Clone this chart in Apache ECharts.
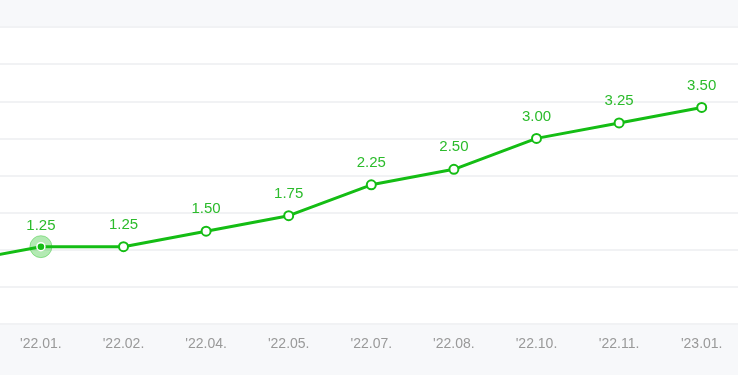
<!DOCTYPE html>
<html>
<head>
<meta charset="utf-8">
<script src="https://cdn.jsdelivr.net/npm/echarts@6/dist/echarts.min.js"></script>
<style>
html,body{margin:0;padding:0;background:#f7f8fa;width:738px;height:375px;overflow:hidden;}
#c{width:826px;height:375px;margin-left:-82.6px;}
</style>
</head>
<body>
<div id="c"></div>
<script>
var categories = ["'21.11.", "'22.01.", "'22.02.", "'22.04.", "'22.05.", "'22.07.", "'22.08.", "'22.10.", "'22.11.", "'23.01."];
var rates = [1.00, 1.25, 1.25, 1.50, 1.75, 2.25, 2.50, 3.00, 3.25, 3.50];
var highlightIndex = 1;

var green = '#14bd14';
var chart = echarts.init(document.getElementById('c'), null, {renderer: 'canvas'});
var lineData = rates.map(function (v, i) {
  if (i === highlightIndex) {
    return {value: v, symbolSize: 8, itemStyle: {color: green, borderColor: '#fff', borderWidth: 1.5}};
  }
  return v;
});
var haloData = rates.map(function (v, i) { return i === highlightIndex ? v : null; });
chart.setOption({
  backgroundColor: '#f7f8fa',
  animation: false,
  grid: {
    left: 0, right: 0, top: 27, bottom: 51,
    show: true, backgroundColor: '#ffffff', borderColor: '#eceef2', borderWidth: 1
  },
  xAxis: {
    type: 'category',
    data: categories,
    boundaryGap: true,
    axisLine: {show: false},
    axisTick: {show: false},
    axisLabel: {color: '#999999', fontSize: 14, margin: 13, fontFamily: 'Liberation Sans'}
  },
  yAxis: {
    type: 'value',
    min: 0, max: 4.8, interval: 0.6,
    axisLabel: {show: false},
    axisLine: {show: false},
    axisTick: {show: false},
    splitLine: {lineStyle: {color: '#f1f2f4', width: 2}}
  },
  series: [
    {
      type: 'scatter',
      data: haloData,
      symbolSize: 22,
      silent: true,
      z: 1,
      itemStyle: {color: 'rgba(20,189,20,0.4)', borderColor: 'rgba(20,189,20,0.45)', borderWidth: 1}
    },
    {
      type: 'line',
      data: lineData,
      z: 2,
      symbol: 'circle',
      symbolSize: 9,
      showAllSymbol: true,
      lineStyle: {color: green, width: 3},
      itemStyle: {color: '#ffffff', borderColor: green, borderWidth: 2},
      label: {
        show: true, position: 'top', distance: 9,
        color: '#2cbb2c', fontSize: 15, fontFamily: 'Liberation Sans',
        formatter: function (p) { return p.value.toFixed(2); }
      }
    }
  ]
});
</script>
</body>
</html>
